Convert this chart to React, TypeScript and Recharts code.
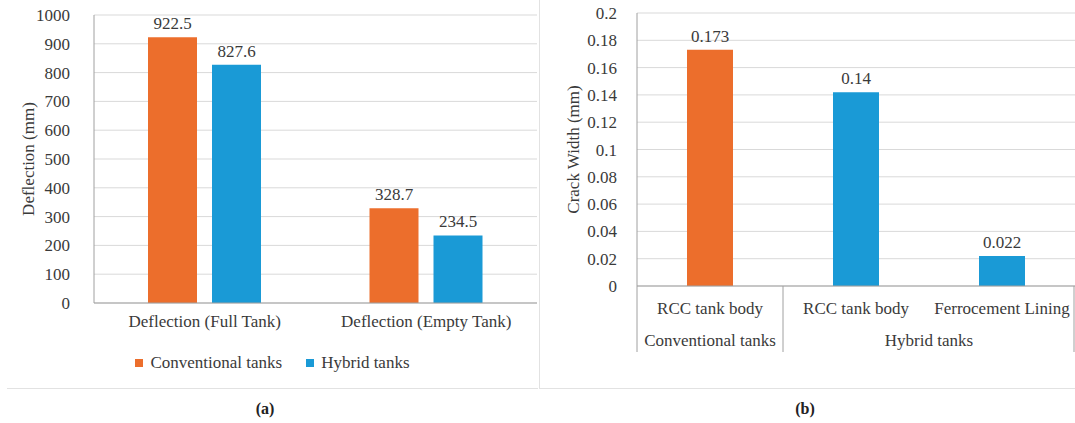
import React from 'react';
import { BarChart, Bar, XAxis, YAxis, CartesianGrid, Legend, LabelList, Label, Cell } from 'recharts';

// ---- Data (a) ----
const deflectionCategories = ['Deflection (Full Tank)', 'Deflection (Empty Tank)'];
const conventionalDeflection = [922.5, 328.7];
const hybridDeflection = [827.6, 234.5];
const deflectionTicks = [0, 100, 200, 300, 400, 500, 600, 700, 800, 900, 1000];

// ---- Data (b) ----
const crackCategories = ['RCC tank body', 'RCC tank body', 'Ferrocement Lining'];
const crackGroups = ['Conventional tanks', 'Hybrid tanks', 'Hybrid tanks'];
const crackValues = [0.173, 0.142, 0.022];
const crackLabels = ['0.173', '0.14', '0.022'];
const crackTicks = [0, 0.02, 0.04, 0.06, 0.08, 0.1, 0.12, 0.14, 0.16, 0.18, 0.2];

const ORANGE = '#EC6E2C';
const BLUE = '#1A9AD6';
const TEXT = '#3a3a3a';
const GRID = '#d9d9d9';
const AXIS = '#a0a0a0';
const FONT = '"Liberation Serif", "Times New Roman", serif';
const FS = 17;

const deflectionData = deflectionCategories.map((c, i) => ({
  name: c,
  conventional: conventionalDeflection[i],
  hybrid: hybridDeflection[i],
}));

const crackData = crackCategories.map((c, i) => ({
  id: `c${i}`,
  name: c,
  group: crackGroups[i],
  value: crackValues[i],
  label: crackLabels[i],
}));

const B_W = 535;
const B_LEFT = 97;
const B_RIGHT = 0;
const B_BAND = (B_W - B_LEFT - B_RIGHT) / crackCategories.length;

const CrackTick = (props: any) => {
  const { x, y, index } = props;
  const g = crackGroups[index];
  const first = crackGroups.indexOf(g);
  const last = crackGroups.lastIndexOf(g);
  const els: any[] = [];
  els.push(
    <text key="t" x={x} y={y + 22} textAnchor="middle" dominantBaseline="central" fill={TEXT} fontSize={FS} fontFamily={FONT}>
      {crackCategories[index]}
    </text>
  );
  if (index === first) {
    els.push(<line key="ls" x1={x - B_BAND / 2} x2={x - B_BAND / 2} y1={y} y2={y + 66} stroke={AXIS} strokeWidth={1} />);
    els.push(
      <text key="g" x={x + ((last - first) * B_BAND) / 2} y={y + 54} textAnchor="middle" dominantBaseline="central" fill={TEXT} fontSize={FS} fontFamily={FONT}>
        {g}
      </text>
    );
  }
  if (index === crackGroups.length - 1) {
    els.push(<line key="le" x1={x + B_BAND / 2 - 1} x2={x + B_BAND / 2 - 1} y1={y} y2={y + 66} stroke={AXIS} strokeWidth={1} />);
  }
  return <g>{els}</g>;
};

const LegendContent = (props: any) => {
  const { payload } = props;
  return (
    <div style={{ display: 'flex', justifyContent: 'center', alignItems: 'center', fontFamily: FONT, fontSize: FS, color: TEXT }}>
      {payload.map((p: any, i: number) => (
        <div key={i} style={{ display: 'flex', alignItems: 'center', marginRight: i === 0 ? 24 : 0 }}>
          <span style={{ display: 'inline-block', width: 8, height: 8, background: p.color, marginRight: 7 }} />
          <span>{p.value}</span>
        </div>
      ))}
    </div>
  );
};

const yLabel = (text: string, xPos: number) => (p: any) => {
  const vb = p.viewBox;
  const cy = vb.y + vb.height / 2;
  return (
    <text x={xPos} y={cy} transform={`rotate(-90 ${xPos} ${cy})`} textAnchor="middle" dominantBaseline="central" fill={TEXT} fontSize={FS} fontFamily={FONT}>
      {text}
    </text>
  );
};

export default function App() {
  return (
    <div style={{ position: 'absolute', left: 0, top: 0, width: 1075, height: 423, background: '#fff', fontFamily: FONT, overflow: 'hidden' }}>
      {/* panel borders */}
      <div style={{ position: 'absolute', left: 7, top: 388, width: 531, height: 1, background: '#e2e2e2' }} />
      <div style={{ position: 'absolute', left: 540, top: 388, width: 535, height: 1, background: '#e2e2e2' }} />
      <div style={{ position: 'absolute', left: 539, top: 0, width: 1, height: 389, background: '#e2e2e2' }} />

      {/* (a) */}
      <div style={{ position: 'absolute', left: 0, top: 0 }}>
        <BarChart width={540} height={390} data={deflectionData} margin={{ top: 15, right: 3, left: 0, bottom: 57 }} barCategoryGap={54} barGap={15}>
          <CartesianGrid vertical={false} stroke={GRID} />
          <XAxis dataKey="name" height={30} tickLine={false} tickSize={0} tickMargin={12} stroke={AXIS} tick={{ fill: TEXT, fontSize: FS, fontFamily: FONT }} />
          <YAxis width={94} domain={[0, 1000]} ticks={deflectionTicks} interval={0} tickLine={false} tickSize={0} tickMargin={24} stroke={AXIS} tick={{ fill: TEXT, fontSize: FS, fontFamily: FONT }}>
            <Label content={yLabel('Deflection (mm)', 28)} />
          </YAxis>
          <Legend verticalAlign="middle" align="center" content={<LegendContent />} wrapperStyle={{ top: 353, left: 0, width: 545 }} />
          <Bar dataKey="conventional" name="Conventional tanks" fill={ORANGE} isAnimationActive={false}>
            <LabelList dataKey="conventional" position="top" offset={8} fill={TEXT} fontSize={FS} fontFamily={FONT} />
          </Bar>
          <Bar dataKey="hybrid" name="Hybrid tanks" fill={BLUE} isAnimationActive={false}>
            <LabelList dataKey="hybrid" position="top" offset={8} fill={TEXT} fontSize={FS} fontFamily={FONT} />
          </Bar>
        </BarChart>
      </div>

      {/* (b) */}
      <div style={{ position: 'absolute', left: 540, top: 0 }}>
        <BarChart width={B_W} height={390} data={crackData} margin={{ top: 13, right: B_RIGHT, left: 0, bottom: 34 }} barCategoryGap={50}>
          <CartesianGrid vertical={false} stroke={GRID} />
          <XAxis dataKey="id" height={70} interval={0} tickLine={false} tickSize={0} tickMargin={0} stroke={AXIS} tick={<CrackTick />} />
          <YAxis width={B_LEFT} domain={[0, 0.2]} ticks={crackTicks} interval={0} tickLine={false} tickSize={0} tickMargin={20} stroke={AXIS} tick={{ fill: TEXT, fontSize: FS, fontFamily: FONT }}>
            <Label content={yLabel('Crack Width (mm)', 33)} />
          </YAxis>
          <Bar dataKey="value" isAnimationActive={false}>
            {crackData.map((d, i) => (
              <Cell key={i} fill={d.group === 'Conventional tanks' ? ORANGE : BLUE} />
            ))}
            <LabelList dataKey="label" position="top" offset={8} fill={TEXT} fontSize={FS} fontFamily={FONT} />
          </Bar>
        </BarChart>
      </div>

      {/* captions */}
      <div style={{ position: 'absolute', left: 0, width: 530, top: 400, textAlign: 'center', fontWeight: 'bold', fontSize: 16, color: '#222' }}>(a)</div>
      <div style={{ position: 'absolute', left: 540, width: 530, top: 400, textAlign: 'center', fontWeight: 'bold', fontSize: 16, color: '#222' }}>(b)</div>
    </div>
  );
}
